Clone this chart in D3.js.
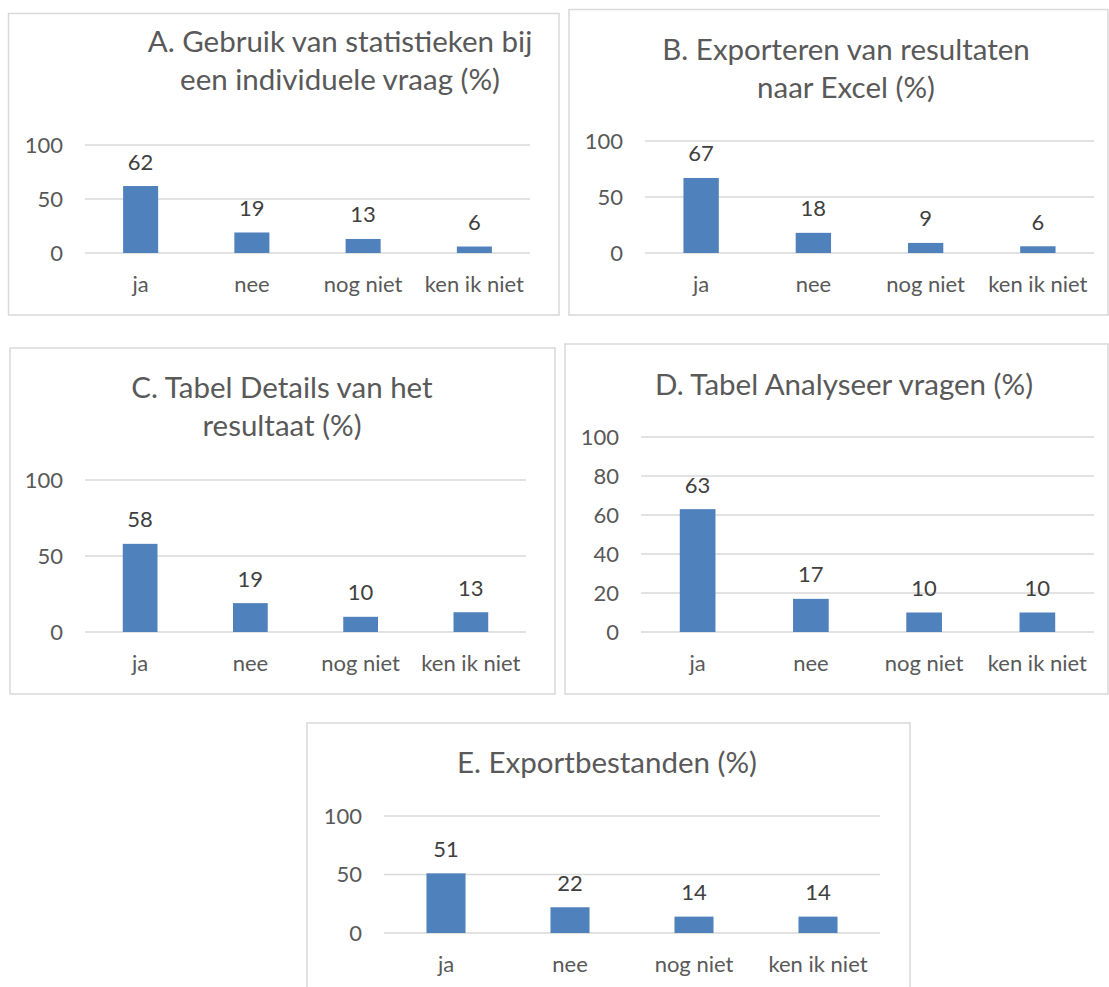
<!DOCTYPE html>
<html><head><meta charset="utf-8">
<script src="https://cdn.jsdelivr.net/npm/d3@7"></script>
<style>
html,body{margin:0;padding:0;background:#fff;}
svg{display:block;font-family:Lato,"Open Sans",sans-serif;}
</style></head>
<body>
<svg id="chart" width="1109" height="987"></svg>
<script>
// ---- data ----
const categories = ["ja", "nee", "nog niet", "ken ik niet"];
const valuesA = [62, 19, 13, 6];
const valuesB = [67, 18, 9, 6];
const valuesC = [58, 19, 10, 13];
const valuesD = [63, 17, 10, 10];
const valuesE = [51, 22, 14, 14];
const titleA = ["A. Gebruik van statistieken bij", "een individuele vraag (%)"];
const titleB = ["B. Exporteren van resultaten", "naar Excel (%)"];
const titleC = ["C. Tabel Details van het", "resultaat (%)"];
const titleD = ["D. Tabel Analyseer vragen (%)"];
const titleE = ["E. Exportbestanden (%)"];
const ticks50 = [0, 50, 100];
const ticks20 = [0, 20, 40, 60, 80, 100];

// ---- layout (positions only) ----
const panels = [
  {values: valuesA, title: titleA, ticks: ticks50, box:[8.5,13.5,559,315], px:[85,530], py:[253,145], tx:340, ty:[52,90]},
  {values: valuesB, title: titleB, ticks: ticks50, box:[569,9.5,1108,315], px:[645,1094], py:[253,141], tx:846, ty:[60,98]},
  {values: valuesC, title: titleC, ticks: ticks50, box:[10,348,555,694], px:[85,526], py:[632,480], tx:282, ty:[398,436]},
  {values: valuesD, title: titleD, ticks: ticks20, box:[565,344,1108,694], px:[641,1094], py:[632,437], tx:844, ty:[395]},
  {values: valuesE, title: titleE, ticks: ticks50, box:[307,723,910,1000], px:[384,880], py:[933,816], tx:607, ty:[773]}
];

const svg = d3.select("#chart");
const BAR = "#4f81bd", GRID = "#d9d9d9", TXT = "#595959", VAL = "#404040";
const LBL = "22px", TTL = "29.5px";

panels.forEach(p => {
  const g = svg.append("g");
  const [bx0, by0, bx1, by1] = p.box;
  g.append("rect").attr("x", bx0).attr("y", by0)
    .attr("width", bx1 - bx0).attr("height", by1 - by0)
    .attr("fill", "#fff").attr("stroke", "#d9d9d9").attr("stroke-width", 1.5);

  const x = d3.scaleBand().domain(categories).range(p.px)
    .paddingInner(0.685).paddingOuter(0.3425);
  const y = d3.scaleLinear().domain([0, 100]).range(p.py);

  // gridlines
  g.selectAll(".grid").data(p.ticks).join("line")
    .attr("x1", p.px[0]).attr("x2", p.px[1])
    .attr("y1", d => y(d)).attr("y2", d => y(d))
    .attr("stroke", GRID).attr("stroke-width", 1.3);

  // y axis labels
  const yAxis = d3.axisLeft(y).tickValues(p.ticks).tickSize(0).tickPadding(22);
  const ya = g.append("g").attr("transform", `translate(${p.px[0]},0)`).call(yAxis);
  ya.select(".domain").remove();
  ya.selectAll("text").attr("fill", TXT).style("font-size", LBL).style("font-family", "Lato");

  // x axis labels
  const xAxis = d3.axisBottom(x).tickSize(0).tickPadding(0);
  const xa = g.append("g").attr("transform", `translate(0,${p.py[0]})`).call(xAxis);
  xa.select(".domain").remove();
  xa.selectAll("text").attr("fill", TXT).attr("dy", null).attr("y", 39)
    .style("font-size", LBL).style("font-family", "Lato");

  // bars
  g.selectAll(".bar").data(p.values).join("rect")
    .attr("x", (d, i) => x(categories[i])).attr("width", x.bandwidth())
    .attr("y", d => y(d)).attr("height", d => y(0) - y(d))
    .attr("fill", BAR);

  // value labels
  g.selectAll(".val").data(p.values).join("text")
    .attr("x", (d, i) => x(categories[i]) + x.bandwidth() / 2)
    .attr("y", d => y(d) - 16.5)
    .attr("text-anchor", "middle").attr("fill", VAL)
    .style("font-size", LBL).text(d => d);

  // title
  g.selectAll(".title").data(p.title).join("text")
    .attr("x", p.tx).attr("y", (d, i) => p.ty[i])
    .attr("text-anchor", "middle").attr("fill", TXT)
    .style("font-size", TTL).text(d => d);
});
</script>
</body></html>
